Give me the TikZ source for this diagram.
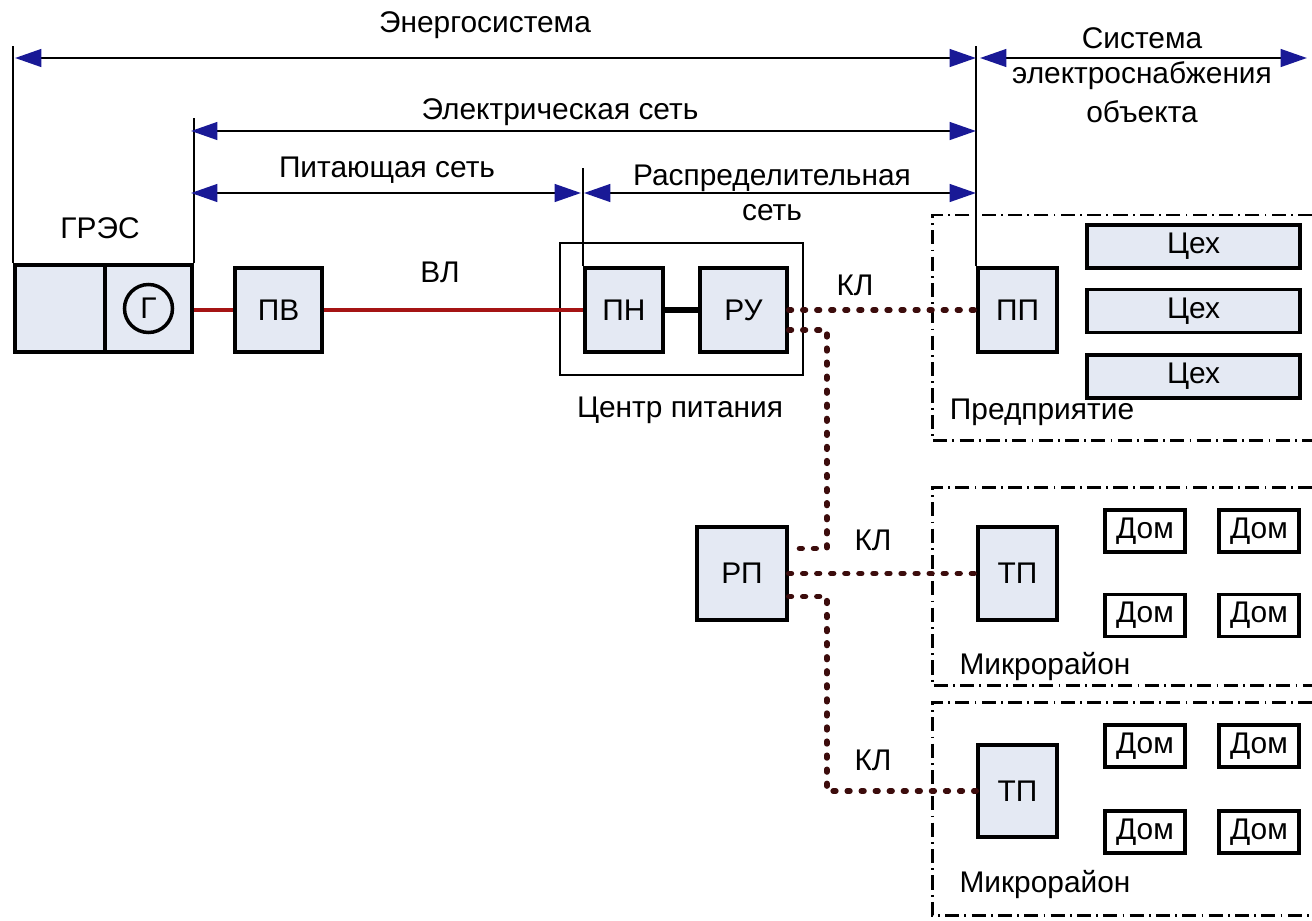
\documentclass[tikz,border=0pt]{standalone}
\usepackage{fontspec}
\setmainfont{Liberation Sans}
\usetikzlibrary{arrows.meta,calc}
\definecolor{arrowblue}{RGB}{25,25,150}
\definecolor{boxfill}{RGB}{228,233,243}
\definecolor{cable}{RGB}{60,12,12}
\definecolor{ohl}{RGB}{165,20,20}
\begin{document}
\begin{tikzpicture}[x=0.02cm,y=-0.02cm,
  font=\fontsize{17}{20}\selectfont,
  sz/.style 2 args={minimum width=#1*0.02cm, minimum height=#2*0.02cm},
  unit/.style={draw, line width=2pt, fill=boxfill, inner sep=0pt},
  house/.style={draw, line width=2pt, fill=white, inner sep=0pt, sz={80}{42}},
  frame/.style={draw, line width=1.3pt, inner sep=0pt},
  lbl/.style={inner sep=0pt},
  vline/.style={line width=1.3pt},
  dim/.style={line width=1.5pt, >={Triangle[length=15pt,width=10pt,color=arrowblue]}, <->},
  ohlline/.style={draw=ohl, line width=2.8pt},
  bus/.style={line width=3.4pt},
  kl/.style={draw=cable, line width=3.2pt, line cap=round, dash pattern=on 1.5pt off 6.5pt},
  zone/.style={line width=1.7pt, dash pattern=on 8pt off 3pt on 1pt off 3pt}
]
\useasboundingbox (0,0) rectangle (1312,920);

% zones
\coordinate (z1a) at (1312,215); \coordinate (z1b) at (932,215);
\coordinate (z1c) at (932,440); \coordinate (z1d) at (1312,440);
\draw[zone] (z1a) -- (z1b) -- (z1c) -- (z1d);
\coordinate (z2a) at (1312,487); \coordinate (z2b) at (932,487);
\coordinate (z2c) at (932,685); \coordinate (z2d) at (1312,685);
\draw[zone] (z2a) -- (z2b) -- (z2c) -- (z2d);
\coordinate (z3a) at (1312,702); \coordinate (z3b) at (932,702);
\coordinate (z3c) at (932,915); \coordinate (z3d) at (1312,915);
\draw[zone] (z3a) -- (z3b) -- (z3c) -- (z3d);

% units
\node[unit, sz={90}{87}] (gres1) at (60,308.5) {};
\node[unit, sz={87}{87}] (gres2) at (148.5,308.5) {};
\node[draw, circle, line width=2pt, inner sep=0pt, minimum size=48*0.02cm] (gen) at (gres2.center) {Г};
\node[unit, sz={87}{84}] (pv) at (278.5,310) {ПВ};
\node[frame, sz={243}{132}] (cp) at (681.5,309) {};
\node[unit, sz={78}{84}] (pn) at (624,310) {ПН};
\node[unit, sz={87}{84}] (ru) at (743.5,310) {РУ};
\node[unit, sz={79}{84}] (pp) at (1017.5,310) {ПП};
\node[unit, sz={213}{43}] (c1) at (1193.5,246.5) {Цех};
\node[unit, sz={213}{43}] (c2) at (1193.5,311) {Цех};
\node[unit, sz={213}{43}] (c3) at (1193.5,376.5) {Цех};
\node[unit, sz={90}{93}] (rp) at (742,573.5) {РП};
\node[unit, sz={79}{93}] (tp1) at (1017.5,573.5) {ТП};
\node[unit, sz={79}{92}] (tp2) at (1017.5,791) {ТП};
\node[house] (d1) at (1145,531) {Дом};
\node[house] (d2) at (1259,531) {Дом};
\node[house] (d3) at (1145,615.5) {Дом};
\node[house] (d4) at (1259,615.5) {Дом};
\node[house] (d5) at (1145,746) {Дом};
\node[house] (d6) at (1259,746) {Дом};
\node[house] (d7) at (1145,832) {Дом};
\node[house] (d8) at (1259,832) {Дом};

% connections
\draw[ohlline] (pv.west -| gres2.east) -- (pv.west);
\draw[ohlline] (pv.east) -- (pn.west);
\draw[bus] (pn.east) -- (ru.west);
\draw[kl] (ru.east) -- (pp.west);
\draw[kl] ($(ru.east)+(0,20)$) -- ++(38,0) |- ($(rp.east)+(0,-25)$);
\draw[kl] (rp.east) -- (tp1.west);
\draw[kl] ($(rp.east)+(0,23)$) -- ++(38,0) |- (tp2.west);

% boundary verticals
\coordinate (v1) at ($(gres1.north west)+(0,-217)$);
\coordinate (v2) at ($(gres2.north east)+(0,-145)$);
\coordinate (v3) at ($(pn.north west)+(0,-98)$);
\coordinate (v4) at ($(pp.north west)+(0,-220)$);
\draw[vline] (gres1.north west) -- (v1);
\draw[vline] (gres2.north east) -- (v2);
\draw[vline] (pn.north west) -- (v3);
\draw[vline] (pp.north west) -- (v4);

% dimension arrows
\coordinate (a1l) at (15,58);  \coordinate (a1r) at (976,58);
\coordinate (a2l) at (980,58); \coordinate (a2r) at (1307,58);
\coordinate (a3l) at (191,131); \coordinate (a3r) at (976,131);
\coordinate (a4l) at (191,193); \coordinate (a4r) at (581,193);
\coordinate (a5l) at (584,193); \coordinate (a5r) at (976,193);
\draw[dim] (a1l) -- (a1r);
\draw[dim] (a2l) -- (a2r);
\draw[dim] (a3l) -- (a3r);
\draw[dim] (a4l) -- (a4r);
\draw[dim] (a5l) -- (a5r);

% labels
\node[lbl] (t1) at (485,25) {Энергосистема};
\node[lbl] (t2a) at (1142,38) {Система};
\node[lbl] (t2b) at (1142,76) {электроснабжения};
\node[lbl] (t2c) at (1142,112) {объекта};
\node[lbl] (t3) at (560,112) {Электрическая сеть};
\node[lbl] (t4) at (387,170) {Питающая сеть};
\node[lbl] (t5a) at (772,178) {Распределительная};
\node[lbl] (t5b) at (772,213) {сеть};
\node[lbl] (t6) at (100,228) {ГРЭС};
\node[lbl] (t7) at (440,272) {ВЛ};
\node[lbl] (t8) at (680,410) {Центр питания};
\node[lbl] (k1) at (855,285) {КЛ};
\node[lbl] (k2) at (873,540) {КЛ};
\node[lbl] (k3) at (873,760) {КЛ};
\node[lbl] (t9) at (1042,412) {Предприятие};
\node[lbl] (t10) at (1045,667) {Микрорайон};
\node[lbl] (t11) at (1045,885) {Микрорайон};
\end{tikzpicture}
\end{document}
